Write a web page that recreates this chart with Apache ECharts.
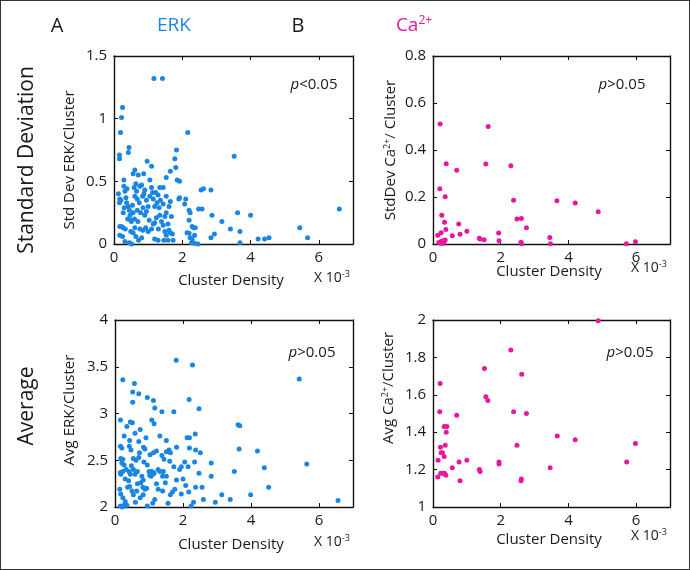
<!DOCTYPE html>
<html>
<head>
<meta charset="utf-8">
<script src="https://cdn.jsdelivr.net/npm/echarts@6/dist/echarts.min.js"></script>
<style>
html,body{margin:0;padding:0;background:#fff;}
#wrap{position:relative;width:690px;height:570px;}
#chart{width:690px;height:570px;}
#frame{position:absolute;left:0;top:0;width:688px;height:568px;border:1px solid #333;pointer-events:none;}
</style>
</head>
<body>
<div id="wrap"><div id="chart"></div><div id="frame"></div></div>
<script>
// ---------- data (x = cluster density ×10^-3) ----------
const xTicks = [0, 2, 4, 6];

const erkStd = [
 [1.17,1.32],[1.42,1.32],[0.25,1.09],[0.22,1.01],[0.19,0.89],[0.16,0.71],[0.16,0.68],
 [2.16,0.89],[3.52,0.70],[1.83,0.75],[0.44,0.77],[0.42,0.73],[0.97,0.66],[1.10,0.62],
 [1.78,0.68],[1.81,0.61],[0.61,0.59],[0.56,0.56],[0.87,0.56],[1.65,0.58],[1.53,0.53],
 [1.85,0.51],[1.92,0.50],[0.29,0.51],[1.05,0.51],[1.34,0.45],[1.44,0.45],[2.55,0.43],
 [2.62,0.44],[2.84,0.43],[1.92,0.37],[1.90,0.36],[2.10,0.36],[2.07,0.32],[2.20,0.27],
 [2.23,0.25],[2.48,0.28],[2.58,0.28],[2.87,0.23],[3.62,0.25],[4.00,0.23],[3.16,0.18],
 [3.41,0.12],[2.94,0.08],[2.84,0.05],[3.69,0.10],[3.69,0.01],[4.22,0.04],[4.41,0.04],
 [4.54,0.05],[5.44,0.13],[5.67,0.05],[6.60,0.28],[2.20,0.19],[2.29,0.14],[2.33,0.13],
 [2.38,0.13],[2.20,0.085],[2.23,0.05],[2.29,0.04],[2.36,0.07],[2.27,0.01],[2.36,0.005],
 [2.46,0.0],[2.14,0.09],
 [0.13,0.40],[0.17,0.36],[0.16,0.33],[0.20,0.35],[0.27,0.25],[0.17,0.14],[0.22,0.14],
 [0.27,0.13],[0.17,0.07],[0.25,0.06],[0.32,0.02],[0.29,0.46],[0.32,0.42],[0.35,0.37],
 [0.37,0.33],[0.42,0.30],[0.45,0.27],[0.47,0.23],[0.49,0.19],[0.51,0.18],[0.49,0.10],
 [0.45,0.01],[0.52,0.0],[0.56,0.09],[0.61,0.13],[0.64,0.06],[0.72,0.03],[0.81,0.05],
 [0.76,0.12],[0.59,0.45],[0.64,0.48],[0.66,0.42],[0.61,0.38],[0.68,0.36],[0.74,0.33],
 [0.76,0.46],[0.81,0.47],[0.84,0.38],[0.85,0.29],[0.78,0.25],[0.68,0.27],[0.56,0.25],
 [0.54,0.31],[0.90,0.23],[0.95,0.26],[1.00,0.30],[1.05,0.38],[1.10,0.45],[1.13,0.41],
 [1.03,0.19],[0.93,0.13],[0.85,0.11],[1.00,0.10],[1.10,0.12],[1.15,0.16],[1.19,0.17],
 [1.24,0.21],[1.19,0.30],[1.26,0.33],[1.32,0.29],[1.34,0.23],[1.39,0.18],[1.44,0.15],
 [1.49,0.22],[1.53,0.25],[1.58,0.16],[1.61,0.11],[1.65,0.09],[1.71,0.08],[1.73,0.03],
 [1.58,0.03],[1.53,0.07],[1.49,0.10],[1.46,0.03],[1.29,0.03],[1.19,0.04],[1.65,0.34],
 [1.53,0.38],[1.61,0.30],[1.68,0.22],[1.44,0.32],[1.36,0.35],[1.29,0.39],[1.22,0.41],
 [1.15,0.36],[0.95,0.35],[0.90,0.43],[0.71,0.55],[0.38,0.44],[0.40,0.20],[0.30,0.29],
 [0.60,0.20],[0.70,0.18],[0.33,0.12],[1.30,0.12],[0.88,0.40]
];

const caStd = [
 [0.21,0.511],[1.63,0.50],[0.39,0.341],[1.56,0.34],[2.30,0.333],[0.70,0.314],[0.20,0.235],
 [0.36,0.201],[2.38,0.186],[3.66,0.184],[4.20,0.174],[4.88,0.137],[0.26,0.122],[0.34,0.093],
 [0.76,0.085],[2.48,0.106],[2.61,0.109],[2.76,0.069],[0.38,0.062],[0.24,0.048],[0.14,0.037],
 [0.57,0.035],[0.80,0.042],[1.00,0.054],[1.37,0.025],[1.39,0.021],[1.51,0.018],[1.94,0.047],
 [1.95,0.014],[2.60,0.007],[2.61,0.001],[3.45,0.028],[3.47,0.001],[5.71,0.001],[5.98,0.01],
 [0.17,0.006],[0.21,0.008],[0.26,0.010],[0.29,0.014],[0.33,0.011],[0.36,0.017],[0.23,0.003],
 [0.31,0.003]
];

const erkAvg = [
 [1.80,3.57],[2.28,3.52],[5.42,3.37],[0.23,3.36],[0.57,3.32],[0.52,3.23],[0.70,3.21],
 [0.95,3.17],[1.13,3.14],[0.52,3.12],[1.17,3.06],[1.38,3.02],[1.73,3.02],[2.18,3.15],
 [2.47,3.05],[0.16,2.93],[0.45,2.91],[0.51,2.90],[1.08,2.93],[1.15,2.89],[0.35,2.86],
 [0.74,2.83],[0.59,2.79],[0.27,2.76],[0.91,2.74],[1.32,2.76],[0.43,2.71],[0.70,2.70],
 [1.51,2.71],[2.36,2.78],[2.19,2.74],[2.12,2.74],[3.62,2.88],[3.67,2.87],[0.16,2.65],
 [0.20,2.63],[0.42,2.65],[0.47,2.61],[0.84,2.64],[0.88,2.62],[1.22,2.60],[1.51,2.59],
 [1.59,2.61],[1.63,2.58],[1.81,2.64],[2.19,2.63],[2.37,2.61],[2.51,2.58],[3.65,2.62],
 [4.19,2.60],[0.17,2.52],[0.23,2.51],[0.54,2.52],[0.62,2.50],[0.72,2.58],[0.70,2.53],
 [0.85,2.48],[1.03,2.56],[1.13,2.58],[1.38,2.55],[1.44,2.51],[1.61,2.49],[1.73,2.43],
 [1.90,2.40],[1.95,2.43],[2.05,2.48],[2.15,2.43],[2.34,2.48],[2.83,2.47],[5.64,2.46],
 [4.39,2.42],[3.51,2.38],[0.20,2.47],[0.27,2.45],[0.16,2.37],[0.17,2.35],[0.23,2.38],
 [0.33,2.40],[0.41,2.38],[0.45,2.35],[0.54,2.40],[0.59,2.35],[0.66,2.38],[0.79,2.33],
 [0.83,2.29],[1.00,2.38],[1.05,2.36],[1.08,2.38],[1.13,2.37],[1.15,2.36],[1.02,2.34],
 [1.06,2.33],[1.11,2.35],[1.27,2.40],[1.32,2.38],[1.42,2.38],[1.40,2.33],[1.51,2.33],
 [1.48,2.26],[1.81,2.29],[2.08,2.23],[2.17,2.16],[2.47,2.36],[2.83,2.33],[2.37,2.21],
 [2.56,2.21],[4.52,2.21],[3.99,2.13],[3.39,2.08],[3.14,2.13],[2.95,2.05],[2.60,2.08],
 [2.31,2.05],[2.24,2.01],[0.14,2.19],[0.17,2.14],[0.23,2.10],[0.30,2.06],[0.35,2.02],
 [0.37,2.21],[0.43,2.22],[0.50,2.17],[0.54,2.13],[0.64,2.17],[0.66,2.25],[0.76,2.26],
 [0.82,2.21],[0.88,2.19],[0.93,2.20],[0.74,2.10],[0.83,2.13],[0.95,2.01],[1.11,2.04],
 [1.17,2.08],[1.27,2.19],[1.40,2.17],[1.56,2.04],[1.63,2.13],[1.69,2.16],[1.76,2.19],
 [0.16,2.01],[0.21,2.00],[0.27,2.02],[6.56,2.07],[0.30,2.30],[0.40,2.28],[1.95,2.14],
 [2.00,2.30],[1.22,2.25],[0.60,2.05],[0.48,2.44],[0.95,2.45]
];

const caAvg = [
 [4.88,1.996],[2.30,1.84],[1.52,1.74],[2.62,1.71],[0.21,1.66],[1.56,1.59],[1.62,1.57],
 [0.20,1.51],[2.38,1.51],[2.76,1.50],[0.70,1.49],[0.33,1.43],[0.41,1.43],[0.39,1.40],
 [3.67,1.38],[4.20,1.36],[5.98,1.34],[0.36,1.33],[2.48,1.33],[0.22,1.32],[0.24,1.29],
 [0.28,1.29],[0.33,1.27],[0.15,1.25],[1.00,1.25],[0.77,1.24],[1.95,1.24],[1.95,1.23],
 [5.72,1.24],[1.37,1.20],[1.39,1.19],[0.57,1.21],[3.46,1.21],[0.23,1.18],[0.29,1.18],
 [0.34,1.18],[0.38,1.17],[0.14,1.16],[0.80,1.14],[2.61,1.15],[2.60,1.14]
];

// ---------- styling ----------
const FONT = "'Open Sans', 'Noto Sans', sans-serif";
const BLUE = '#1a86e2';
const MAG = '#e8189c';
const INK = '#1a1a1a';

const panels = [
  {grid:{left:114, top:56, width:239, height:188}, yMin:0, yMax:1.5, yInt:0.5, data:erkStd, color:BLUE},
  {grid:{left:433, top:56, width:237, height:188}, yMin:0, yMax:0.8, yInt:0.2, data:caStd, color:MAG},
  {grid:{left:115, top:320, width:238, height:187}, yMin:2, yMax:4, yInt:0.5, data:erkAvg, color:BLUE},
  {grid:{left:433, top:320, width:237, height:187}, yMin:1, yMax:2, yInt:0.2, data:caAvg, color:MAG}
];

const grids = [], xAxes = [], yAxes = [], series = [];
panels.forEach((p, i) => {
  grids.push(Object.assign({containLabel:false}, p.grid));
  const lineStyle = {color: '#111', width: 1.4};
  const tickStyle = {color: '#111', width: 1};
  xAxes.push({
    gridIndex:i, type:'value', position:'bottom', min:0, max:7,
    axisLine:{show:true, onZero:false, lineStyle},
    axisTick:{show:true, inside:true, length:4, lineStyle:tickStyle, customValues:xTicks},
    axisLabel:{show:true, color:INK, fontFamily:FONT, fontSize:15, margin:6, customValues:xTicks},
    splitLine:{show:false}
  });
  xAxes.push({
    gridIndex:i, type:'value', position:'top', min:0, max:7,
    axisLine:{show:true, onZero:false, lineStyle},
    axisTick:{show:true, inside:true, length:4, lineStyle:tickStyle, customValues:xTicks},
    axisLabel:{show:false},
    splitLine:{show:false}
  });
  yAxes.push({
    gridIndex:i, type:'value', position:'left', min:p.yMin, max:p.yMax, interval:p.yInt,
    axisLine:{show:true, onZero:false, lineStyle},
    axisTick:{show:true, inside:true, length:4, lineStyle:tickStyle},
    axisLabel:{show:true, color:INK, fontFamily:FONT, fontSize:15, margin:7},
    splitLine:{show:false}
  });
  yAxes.push({
    gridIndex:i, type:'value', position:'right', min:p.yMin, max:p.yMax, interval:p.yInt,
    axisLine:{show:true, onZero:false, lineStyle},
    axisTick:{show:true, inside:true, length:4, lineStyle:tickStyle},
    axisLabel:{show:false},
    splitLine:{show:false}
  });
  series.push({
    type:'scatter', xAxisIndex:2*i, yAxisIndex:2*i, data:p.data,
    symbol:'circle', symbolSize:5, itemStyle:{color:p.color, opacity:1},
    clip:false, silent:true, animation:false
  });
});

function txt(x, y, text, opts) {
  return {
    type:'text', x:x, y:y, silent:true,
    style:Object.assign({text:text, fill:INK, font:'14px ' + FONT, align:'center', verticalAlign:'middle'}, opts || {})
  };
}
function rot(x, y, text, size, rich) {
  return {
    type:'text', x:x, y:y, rotation:Math.PI/2, silent:true,
    style:{text:text, fill:INK, font:size + 'px ' + FONT, align:'center', verticalAlign:'middle', rich:rich}
  };
}
const supRich = (size, color) => ({
  n:{fontSize:size, fontFamily:FONT, fill:color||INK, color:color||INK},
  s:{fontSize:Math.round(size*0.62), fontFamily:FONT, fill:color||INK, color:color||INK, padding:[0,0,Math.round(size*0.55),0]}
});
const pRich = {
  i:{fontSize:15, fontFamily:FONT, fontStyle:'italic', fill:INK, color:INK},
  n:{fontSize:15, fontFamily:FONT, fill:INK, color:INK}
};

const graphics = [
  txt(57, 26, 'A', {font:'20px ' + FONT}),
  txt(174, 26, 'ERK', {font:'19px ' + FONT, fill:BLUE}),
  txt(298, 26, 'B', {font:'20px ' + FONT}),
  {type:'text', x:414, y:26, silent:true,
   style:{text:'{n|Ca}{s|2+}', align:'center', verticalAlign:'middle', rich:supRich(19, MAG)}},
  rot(27, 160, 'Standard Deviation', 21),
  rot(27, 406, 'Average', 21),
  rot(70, 160, 'Std Dev ERK/Cluster', 15),
  rot(70, 410, 'Avg ERK/Cluster', 15),
  rot(391, 150, '{n|StdDev Ca}{s|2+}{n|/ Cluster}', 15, supRich(15)),
  rot(389, 388, '{n|Avg Ca}{s|2+}{n|/Cluster}', 15, supRich(15)),
  txt(231, 281, 'Cluster Density', {font:'15px ' + FONT}),
  txt(549, 272, 'Cluster Density', {font:'15px ' + FONT}),
  txt(231, 545, 'Cluster Density', {font:'15px ' + FONT}),
  txt(549, 540, 'Cluster Density', {font:'15px ' + FONT}),
  {type:'text', x:332, y:278, silent:true, style:{text:'{n|X 10}{s|-3}', align:'center', verticalAlign:'middle', rich:supRich(14)}},
  {type:'text', x:649, y:268, silent:true, style:{text:'{n|X 10}{s|-3}', align:'center', verticalAlign:'middle', rich:supRich(14)}},
  {type:'text', x:332, y:542, silent:true, style:{text:'{n|X 10}{s|-3}', align:'center', verticalAlign:'middle', rich:supRich(14)}},
  {type:'text', x:649, y:536, silent:true, style:{text:'{n|X 10}{s|-3}', align:'center', verticalAlign:'middle', rich:supRich(14)}},
  {type:'text', x:314, y:85, silent:true, style:{text:'{i|p}{n|<0.05}', align:'center', verticalAlign:'middle', rich:pRich}},
  {type:'text', x:622, y:85, silent:true, style:{text:'{i|p}{n|>0.05}', align:'center', verticalAlign:'middle', rich:pRich}},
  {type:'text', x:312, y:353, silent:true, style:{text:'{i|p}{n|>0.05}', align:'center', verticalAlign:'middle', rich:pRich}},
  {type:'text', x:630, y:353, silent:true, style:{text:'{i|p}{n|>0.05}', align:'center', verticalAlign:'middle', rich:pRich}}
];

const chart = echarts.init(document.getElementById('chart'), null, {renderer:'canvas'});
chart.setOption({
  animation:false,
  backgroundColor:'#fff',
  textStyle:{fontFamily:FONT},
  grid:grids, xAxis:xAxes, yAxis:yAxes, series:series,
  graphic:graphics
});
</script>
</body>
</html>
